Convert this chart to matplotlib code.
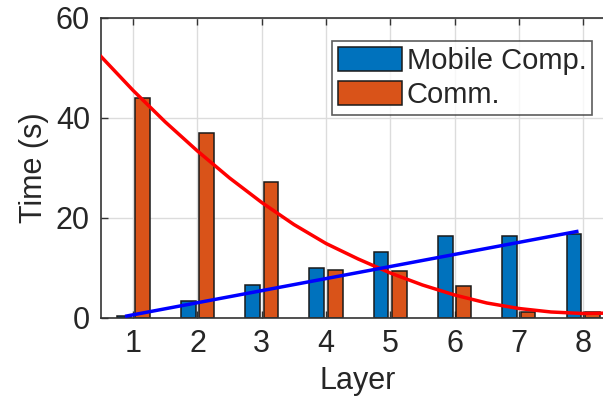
import numpy as np
import matplotlib
matplotlib.use("Agg")
import matplotlib.pyplot as plt

# data
layers = [1, 2, 3, 4, 5, 6, 7, 8]
mobile_comp = [0.3, 3.3, 6.6, 9.9, 13.1, 16.4, 16.4, 16.7]
comm = [44.0, 37.0, 27.1, 9.5, 9.3, 6.4, 1.1, 1.2]

# trend lines
comm_fit_x = [0.5, 1.0, 1.5, 2.0, 2.5, 3.0, 3.5, 4.0, 4.5, 5.0, 5.5, 6.0, 6.5, 7.0, 7.5, 8.0, 8.5]
comm_fit_y = [52.3, 45.5, 39.2, 33.4, 28.0, 23.1, 18.7, 14.9, 11.8, 9.0, 6.6, 4.6, 3.0, 1.9, 1.2, 0.9, 1.0]
comp_fit_x = [0.9, 7.9]
comp_fit_y = [0.4, 17.3]

plt.rcParams["font.family"] = ["Liberation Sans", "DejaVu Sans"]

fig = plt.figure(figsize=(6.03, 4.08), dpi=100)
# axes runs past the right edge on purpose (reference is cropped there)
ax = fig.add_axes([0.1675, 0.2206, 0.853, 0.7353])

x = np.array(layers)
off = 0.143
w = 0.229
ax.bar(x - off, mobile_comp, w, color="#0072BD", edgecolor="#1a1a1a", linewidth=1.1,
       label="Mobile Comp.", zorder=2)
ax.bar(x + off, comm, w, color="#D95319", edgecolor="#1a1a1a", linewidth=1.1,
       label="Comm.", zorder=2)

ax.plot(comm_fit_x, comm_fit_y, color="#FF0000", lw=2.5, zorder=3,
        solid_joinstyle="round")
ax.plot(comp_fit_x, comp_fit_y, color="#0000FF", lw=2.5, zorder=3)

ax.set_xlim(0.5, 8.5)
ax.set_ylim(0, 60)
ax.set_xticks(layers)
ax.set_yticks([0, 20, 40, 60])
ax.grid(True, color="#dcdcdc", lw=1.0, zorder=0)
ax.set_axisbelow(True)

ax.tick_params(direction="in", top=True, right=True, length=5, width=1,
               colors="#333333", labelsize=22, labelcolor="#262626", pad=8)
for s in ax.spines.values():
    s.set_color("#333333")
    s.set_linewidth(1.2)

ax.set_xlabel("Layer", fontsize=22, color="#262626", labelpad=5)
ax.set_ylabel("Time (s)", fontsize=22, color="#262626", labelpad=5)

leg = ax.legend(loc="upper left", bbox_to_anchor=(0.45, 0.923), fontsize=21,
                frameon=True, fancybox=False, handlelength=2.2, handleheight=0.9,
                handletextpad=0.15, labelspacing=0.2, borderpad=0.2,
                borderaxespad=0)
leg.get_frame().set_edgecolor("#333333")
leg.get_frame().set_linewidth(1.2)
for t in leg.get_texts():
    t.set_color("#262626")

fig.savefig("out.png", dpi=100)
